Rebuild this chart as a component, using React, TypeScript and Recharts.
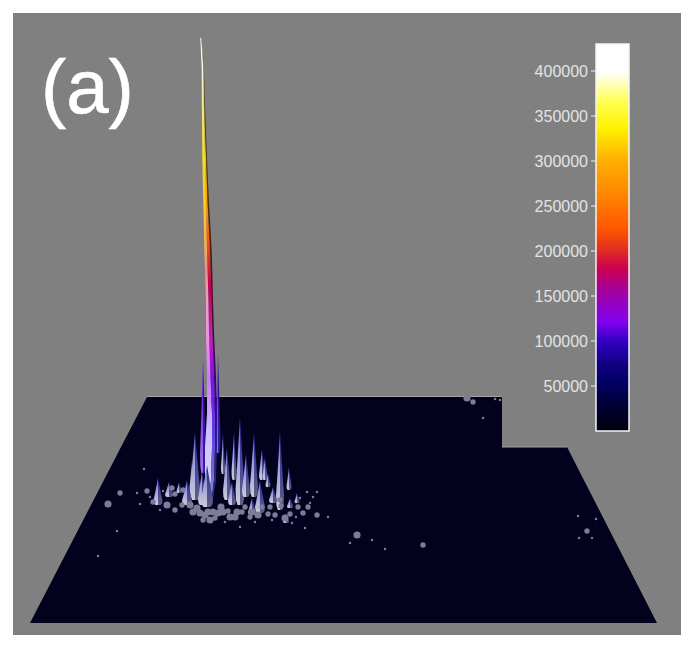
import { Area, Bar, BarChart, ComposedChart, Scatter, XAxis, YAxis, ZAxis } from "recharts";

// floor outline, heights measured up from its front edge
const floorHeights = [0, 176, 176, 226];
const floorLeft = [30, 121, 121, 147];
const floorRight = [657, 567, 502, 502];
const floorBackEdge = [226, 227];
const notchEdge = [175.5, 176.5];

// the tall peak, split in three bands from lit side to shaded side
const peakHeights = [585, 555, 498, 465, 421, 373, 323, 290, 246, 210, 176, 143, 118];
const peakLeft = [200.3, 201.7, 202, 202.3, 203.3, 204.3, 206, 206, 207, 207, 205, 205, 204];
const peakSeamA = [201.2, 203.2, 204.2, 205, 206, 207, 208.5, 209, 210.5, 212, 212, 211, 209];
const peakSeamB = [201.5, 203.6, 204.8, 206, 207.5, 210, 211.5, 212.5, 214, 215, 215, 214, 211];
const peakRight = [201.7, 204, 205.7, 207, 209, 211.7, 213, 214, 216, 217, 217, 216, 212];

// thin violet peaks right beside the tall one
const sideX = [203, 218];
const sideBase = [150, 170];
const sideTop = [263, 270];
const sideWidth = [3, 2.5];

// smaller peaks around it
const spikeX = [223, 234, 262, 265, 268, 289, 192, 195, 169, 179, 227, 240, 246, 254, 280, 158, 187, 202, 207, 232, 260, 252, 273, 297, 290, 286];
const spikeBase = [149, 143, 143, 143, 136, 133, 130, 123, 126, 130, 123, 118, 126, 126, 113, 118, 118, 118, 116, 118, 110, 108, 120, 120, 115, 100];
const spikeTop = [190, 191, 174, 166, 150, 156, 163, 191, 141, 141, 176, 206, 169, 190, 192, 145, 143, 153, 158, 141, 143, 125, 136, 130, 125, 110];
const spikeWidth = [2, 2.5, 3, 2.5, 2.5, 2.5, 2.5, 5, 4, 2.5, 4, 4.5, 4, 4, 4, 4.5, 5, 4, 6, 4, 5, 4, 4, 2.5, 3, 3];
const behindPeak = 8;

// low bumps on the floor
const bumpX = [108, 120, 137, 147, 144, 117, 153, 140, 167, 190, 197, 205, 210, 218, 223, 237, 242, 252, 258, 270, 285, 292, 303, 310, 317, 328, 298, 307, 317, 305, 240, 200, 213, 230, 467, 473, 495, 500, 483, 357, 350, 372, 385, 423, 578, 596, 587, 579, 592, 98, 175, 182, 193, 203, 208, 215, 221, 228, 235, 245, 250, 262, 268, 275, 281, 290, 296, 300, 308, 163, 172, 150, 160, 175, 183, 280, 225, 255, 272, 313];
const bumpHeight = [119, 130, 130, 132, 154, 92, 121, 119, 118, 118, 115, 108, 103, 110, 111, 111, 111, 111, 108, 116, 105, 100, 110, 120, 108, 106, 116, 131, 131, 95, 96, 110, 111, 106, 225, 221, 224, 223, 205, 88, 80, 83, 74, 78, 107, 104, 92, 85, 85, 67, 113, 118, 111, 103, 111, 105, 116, 112, 106, 116, 106, 116, 109, 108, 117, 109, 106, 125, 116, 132, 135, 126, 113, 129, 133, 123, 101, 101, 103, 126];
const bumpSize = [3, 2, 1, 2, 1, 1, 2, 1, 3, 3, 3, 3, 3, 3, 3, 3, 2, 3, 3, 2, 3, 1, 2, 1, 2, 1, 2, 1, 1, 1, 1, 3, 3, 3, 3, 2, 1, 1, 1, 3, 1, 1, 1, 2, 1, 1, 2, 1, 1, 1, 2, 2, 3, 2, 3, 2, 3, 2, 3, 2, 2, 2, 2, 2, 2, 2, 1, 1, 2, 1, 2, 1, 1, 2, 2, 2, 1, 1, 1, 1];

// colour bar
const barTicks = [50000, 100000, 150000, 200000, 250000, 300000, 350000, 400000];
const barMax = [430000];

const rows = (heights: number[], from: number[], to: number[]) =>
  heights.map((h, i) => ({ h, span: [from[i], to[i]] }));

const floorData = rows(floorHeights, floorLeft, floorRight);
const backEdgeData = rows(floorBackEdge, [147, 147], [502, 502]);
const notchEdgeData = rows(notchEdge, [502, 502], [567, 567]);
const bumps = bumpX.map((x, i) => ({ x, h: bumpHeight[i], size: bumpSize[i] }));
const colorBarData = barMax.map((top) => ({ name: "counts", top }));

// column outline: round at the foot, long thin tip
function columnRows(x: number, low: number, top: number, width: number, side: number) {
  const tall = top - low;
  return [
    [0, 0.55],
    [0.06, 0.9],
    [0.18, 1],
    [0.4, 0.7],
    [0.7, 0.35],
    [1, 0],
  ].map(([up, wide]) => {
    const edge = x + width * wide * side;
    return { h: low + tall * up, span: [Math.min(x, edge), Math.max(x, edge)] };
  });
}

function Column(key: string, x: number, low: number, top: number, width: number, lit: string, shade: string) {
  return [
    <Area key={`${key}l`} data={columnRows(x, low, top, width, -1)} dataKey="span" fill={lit} fillOpacity={1} stroke="none" dot={false} activeDot={false} isAnimationActive={false} />,
    <Area key={`${key}r`} data={columnRows(x, low, top, width, 1)} dataKey="span" fill={shade} fillOpacity={1} stroke="none" dot={false} activeDot={false} isAnimationActive={false} />,
  ];
}

const Stops = ({ stops }: { stops: [number, string][] }) => (
  <>
    {stops.map(([offset, color]) => (
      <stop key={offset} offset={offset} stopColor={color} />
    ))}
  </>
);

export default function App() {
  const spikes = spikeX.map((x, i) =>
    Column(`s${i}`, x, spikeBase[i], spikeTop[i], spikeWidth[i], "url(#spikeLit)", "url(#spikeShade)")
  );
  return (
    <div style={{ position: "absolute", left: 0, top: 0, width: 693, height: 648, background: "#fff", overflow: "hidden" }}>
      <div style={{ position: "absolute", left: 13, top: 13, width: 668, height: 622, background: "#808080" }} />
      <ComposedChart
        layout="vertical"
        width={693}
        height={648}
        margin={{ top: 0, right: 0, bottom: 0, left: 0 }}
        style={{ position: "absolute", left: 0, top: 0, filter: "blur(0.5px)" }}
      >
        <defs>
          <linearGradient id="peakLit" x1="0" y1="0" x2="0" y2="1">
            <Stops stops={[[0, "#ffffff"], [0.07, "#f8f6e0"], [0.18, "#f0e070"], [0.26, "#f5df20"], [0.35, "#fcc830"], [0.44, "#f5b050"], [0.5, "#e89090"], [0.56, "#f0a0c0"], [0.65, "#f090e0"], [0.73, "#c878ff"], [0.84, "#c8c0ff"], [1, "#e0e0f0"]]} />
          </linearGradient>
          <linearGradient id="peakMid" x1="0" y1="0" x2="0" y2="1">
            <Stops stops={[[0, "#e8e8d0"], [0.1, "#d8d050"], [0.26, "#f0d000"], [0.36, "#f0a000"], [0.46, "#e04020"], [0.53, "#c00050"], [0.64, "#c020c0"], [0.73, "#8010e0"], [0.85, "#6040e0"], [1, "#9090d0"]]} />
          </linearGradient>
          <linearGradient id="peakDark" x1="0" y1="0" x2="0" y2="1">
            <Stops stops={[[0, "#807050"], [0.15, "#403818"], [0.35, "#503010"], [0.5, "#501010"], [0.65, "#400040"], [0.75, "#3000a0"], [0.88, "#2a2090"], [1, "#303078"]]} />
          </linearGradient>
          <linearGradient id="sideLit" x1="0" y1="0" x2="0" y2="1">
            <stop offset={0} stopColor="#6010d0" />
            <stop offset={1} stopColor="#a070f0" />
          </linearGradient>
          <linearGradient id="sideShade" x1="0" y1="0" x2="0" y2="1">
            <stop offset={0} stopColor="#3a0890" />
            <stop offset={1} stopColor="#3020a0" />
          </linearGradient>
          <linearGradient id="spikeLit" x1="0" y1="0" x2="0" y2="1">
            <stop offset={0} stopColor="#5050c8" />
            <stop offset={0.4} stopColor="#9898d8" />
            <stop offset={1} stopColor="#ccccdc" />
          </linearGradient>
          <linearGradient id="spikeShade" x1="0" y1="0" x2="0" y2="1">
            <stop offset={0} stopColor="#282088" />
            <stop offset={0.5} stopColor="#44449a" />
            <stop offset={1} stopColor="#60607e" />
          </linearGradient>
        </defs>
        <XAxis type="number" dataKey="x" domain={[0, 693]} hide />
        <YAxis type="number" dataKey="h" domain={[-25, 623]} reversed hide />
        <ZAxis type="number" dataKey="size" domain={[1, 3]} range={[5, 40]} />
        <Area data={floorData} dataKey="span" fill="#02021f" fillOpacity={1} stroke="none" dot={false} activeDot={false} isAnimationActive={false} />
        <Area data={backEdgeData} dataKey="span" fill="#a4a4a4" fillOpacity={1} stroke="none" dot={false} activeDot={false} isAnimationActive={false} />
        <Area data={notchEdgeData} dataKey="span" fill="#a4a4a4" fillOpacity={1} stroke="none" dot={false} activeDot={false} isAnimationActive={false} />
        <Scatter data={bumps} fill="#7c7c98" isAnimationActive={false} />
        {spikes.slice(0, behindPeak)}
        {sideX.map((x, i) => Column(`p${i}`, x, sideBase[i], sideTop[i], sideWidth[i], "url(#sideLit)", "url(#sideShade)"))}
        <Area data={rows(peakHeights, peakLeft, peakSeamA)} dataKey="span" fill="url(#peakLit)" fillOpacity={1} stroke="none" dot={false} activeDot={false} isAnimationActive={false} />
        <Area data={rows(peakHeights, peakSeamA, peakSeamB)} dataKey="span" fill="url(#peakMid)" fillOpacity={1} stroke="none" dot={false} activeDot={false} isAnimationActive={false} />
        <Area data={rows(peakHeights, peakSeamB, peakRight)} dataKey="span" fill="url(#peakDark)" fillOpacity={1} stroke="none" dot={false} activeDot={false} isAnimationActive={false} />
        {spikes.slice(behindPeak)}
      </ComposedChart>
      <div style={{ position: "absolute", left: 41, top: 42, fontFamily: "'Liberation Sans', Arial, sans-serif", fontSize: 76, lineHeight: "90px", color: "#fff", WebkitTextStroke: "0.6px #fff" }}>
        (a)
      </div>
      <BarChart
        width={120}
        height={410}
        data={colorBarData}
        barCategoryGap={0}
        margin={{ top: 10, right: 11, bottom: 13, left: 0 }}
        style={{ position: "absolute", left: 520, top: 34 }}
      >
        <defs>
          <linearGradient id="heat" x1="0" y1="0" x2="0" y2="1">
            <Stops stops={[[0, "#ffffff"], [0.07, "#ffffff"], [0.1, "#ffffc0"], [0.15, "#ffff50"], [0.22, "#fff000"], [0.3, "#ffb000"], [0.4, "#ff8000"], [0.48, "#ff5500"], [0.53, "#e03020"], [0.58, "#cc0050"], [0.64, "#a000a0"], [0.72, "#8000f0"], [0.77, "#3000c0"], [0.83, "#100080"], [0.88, "#000060"], [0.94, "#000030"], [1, "#000010"]]} />
          </linearGradient>
        </defs>
        <XAxis dataKey="name" hide />
        <YAxis
          type="number"
          width={76}
          domain={[0, 430000]}
          ticks={barTicks}
          interval={0}
          axisLine={false}
          tickSize={5}
          tickMargin={3}
          tickLine={{ stroke: "#f0f0f0" }}
          tick={{ fontSize: 16, fill: "#e4e4e4", fontFamily: "'Liberation Sans', Arial, sans-serif" }}
        />
        <Bar dataKey="top" fill="url(#heat)" stroke="#f4f4f4" strokeWidth={1.5} isAnimationActive={false} />
      </BarChart>
    </div>
  );
}
